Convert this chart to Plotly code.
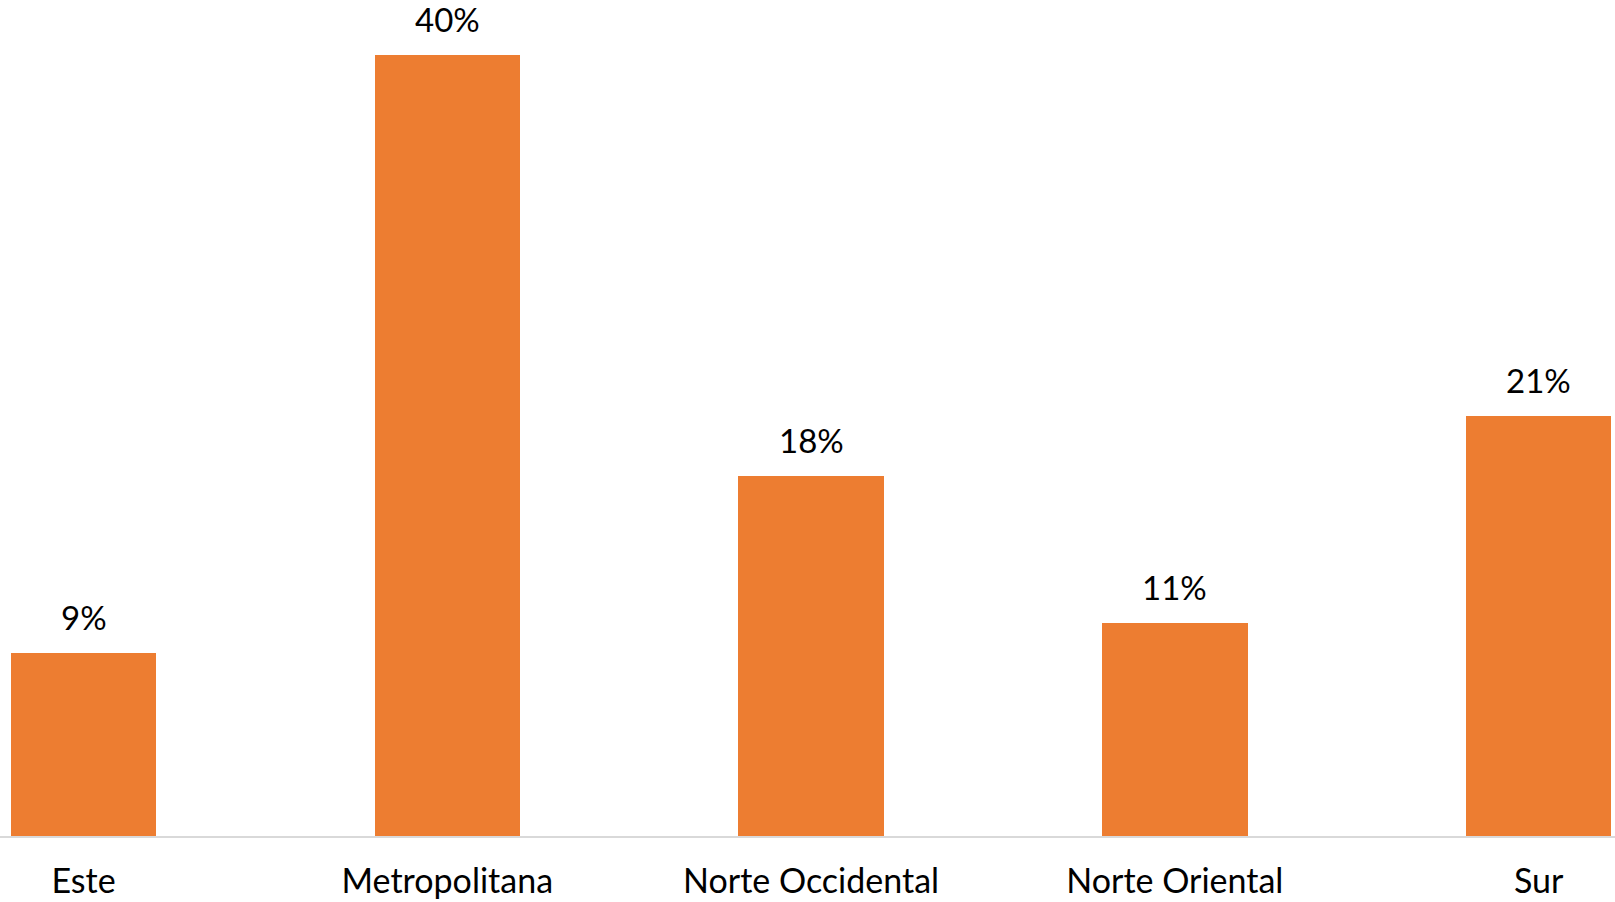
import plotly.graph_objects as go

categories = ["Este", "Metropolitana", "Norte Occidental", "Norte Oriental", "Sur"]
values = [0.0935, 0.399, 0.184, 0.109, 0.2145]

BAR_COLOR = "#ED7D31"
FONT = "Lato"

fig = go.Figure()
fig.add_trace(go.Bar(
    x=list(range(len(categories))),
    y=values,
    width=0.4,
    marker=dict(color=BAR_COLOR, line=dict(width=0)),
    hoverinfo="skip",
))

for i, v in enumerate(values):
    fig.add_annotation(
        x=i, y=v, xref="x", yref="y",
        text=f"{v:.0%}", showarrow=False,
        yanchor="bottom", yshift=14,
        font=dict(family=FONT, size=33, color="#000000"),
    )

fig.update_layout(
    width=1615, height=902,
    margin=dict(l=0, r=0, t=0, b=66, autoexpand=False),
    plot_bgcolor="white", paper_bgcolor="white",
    showlegend=False,
    bargap=0,
    xaxis=dict(
        range=[-0.2296, 4.21],
        tickmode="array",
        tickvals=list(range(len(categories))),
        ticktext=categories,
        showgrid=False, zeroline=False,
        showline=True, linecolor="#D9D9D9", linewidth=2,
        ticks="", ticklabelstandoff=14,
        automargin=False,
        tickfont=dict(family=FONT, size=34, color="#000000"),
    ),
    yaxis=dict(
        range=[0, 0.4270],
        visible=False, showgrid=False, zeroline=False,
    ),
)

fig.write_html(
    "out.html",
    config={"displayModeBar": False},
    post_script="document.body.style.margin='0';document.body.style.overflow='hidden';",
)
